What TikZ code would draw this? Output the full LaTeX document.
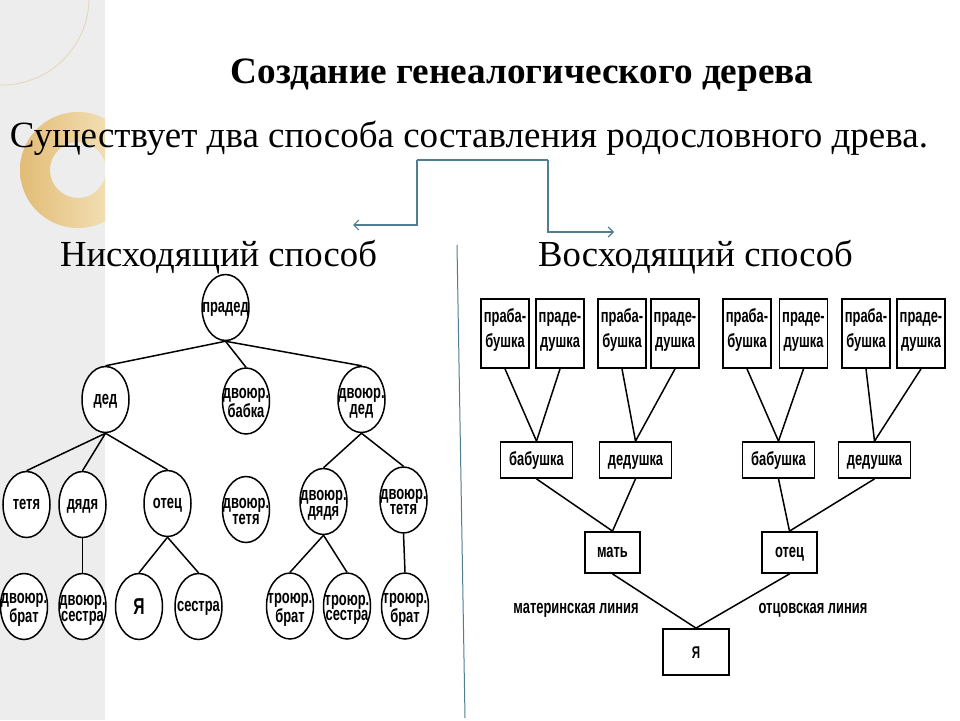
\documentclass[tikz,border=0pt]{standalone}
\usepackage{fontspec}
\setmainfont{Liberation Serif}
\newfontfamily\lbl{Liberation Sans}[FakeStretch=0.68]
\usetikzlibrary{shapes.geometric,arrows.meta}
\definecolor{arrc}{RGB}{80,125,145}
\definecolor{stripc}{RGB}{237,237,237}
\definecolor{golddark}{RGB}{226,188,118}
\definecolor{goldlight}{RGB}{248,234,200}
\definecolor{arcc}{RGB}{226,214,184}
\newcommand\twol[2]{\makebox[0pt]{\raisebox{-3pt}{\begin{tabular}{@{}c@{}}#1\\#2\end{tabular}}}}
\newcommand\twoup[2]{\makebox[0pt]{\raisebox{4pt}{\begin{tabular}{@{}c@{}}#1\\#2\end{tabular}}}}
\newcommand\onel[1]{\makebox[0pt]{#1}}
\begin{document}
\begin{tikzpicture}[x=1pt,y=-1pt,
  lab/.style={font=\lbl\bfseries\fontsize{19}{15.5}\selectfont, text=black, text height=10pt, text depth=0pt},
  ell/.style={lab, ellipse, draw=black, line width=1.5pt, fill=white, minimum width=47pt, minimum height=66pt, inner sep=0pt},
  topbox/.style={lab, font=\lbl\bfseries\fontsize{19}{25}\selectfont, rectangle, draw=black, line width=1.8pt, fill=white, minimum width=48pt, minimum height=69pt, inner sep=0pt},
  midbox/.style={lab, rectangle, draw=black, line width=1.8pt, fill=white, minimum width=72pt, minimum height=36pt, inner sep=0pt},
  parbox/.style={lab, rectangle, draw=black, line width=1.8pt, fill=white, minimum width=55pt, minimum height=41pt, inner sep=0pt},
  link/.style={line width=1.5pt, black},
  elbow/.style={draw=arrc, line width=1.2pt},
  tip/.style={-{Straight Barb[length=5pt,width=10pt]}},
  linelab/.style={lab, inner sep=0pt},
  heading/.style={font=\fontsize{36.7}{42}\selectfont, inner sep=0pt, anchor=base}
]
\useasboundingbox (0,0) rectangle (960,720);
\fill[white] (0,0) rectangle (960,720);
% left decorative strip
\fill[stripc] (0,0) rectangle (105,720);
\begin{scope}
  \clip (0,0) rectangle (105,720);
  \shade[even odd rule, left color=golddark, right color=goldlight] (78,170) circle (58) (78,170) circle (28);
  \draw[arcc, line width=0.8pt] (2,-2) circle (87);
\end{scope}
% separator line
\coordinate (sepA) at (457,245);
\coordinate (sepB) at (465,718);
\draw[arrc, line width=1pt] (sepA) -- (sepB);

% titles
\node[font=\bfseries\fontsize{37.2}{42}\selectfont, inner sep=0pt, anchor=base] (title) at (522,83) {Создание генеалогического дерева};
\node[font=\fontsize{37}{42}\selectfont, inner sep=0pt, anchor=base] (sub) at (469,147) {Существует два способа составления родословного древа.};
\node[heading] (down) at (218.5,266) {Нисходящий способ};
\node[heading] (up) at (695.5,266) {Восходящий способ};

% elbow arrows
\coordinate (tl) at (417,160);
\coordinate (tr) at (548,160);
\coordinate (la) at (353,225);
\coordinate (ra) at (614,232);
\draw[elbow] (tl) -- (tr);
\draw[elbow, tip] (tl) |- (la);
\draw[elbow, tip] (tr) |- (ra);

% ---------- left tree ----------
\node[ell] (p) at (225.5,307.5) {\onel{прадед}};
\node[ell] (d) at (105.5,399.5) {\onel{дед}};
\node[ell] (db) at (246,401) {\twol{двоюр.}{бабка}};
\node[ell] (dd) at (361.5,399.5) {\twol{двоюр.}{дед}};
\node[ell] (t) at (26.5,504.5) {\onel{тетя}};
\node[ell] (dj) at (82.5,504.5) {\onel{дядя}};
\node[ell] (o) at (167.5,503.5) {\onel{отец}};
\node[ell] (dt) at (246,509.5) {\twol{двоюр.}{тетя}};
\node[ell] (ddj) at (323.5,501.5) {\twol{двоюр.}{дядя}};
\node[ell] (dt2) at (403.5,500) {\twol{двоюр.}{тетя}};
\node[ell] (b1) at (24,606.5) {\twol{двоюр.}{брат}};
\node[ell] (s1) at (82.5,606.5) {\twol{двоюр.}{сестра}};
\node[ell, font=\lbl\bfseries\fontsize{23}{24}\selectfont, text height=16pt] (ya) at (139,606.5) {\onel{Я}};
\node[ell] (s2) at (198.5,606.5) {\onel{сестра}};
\node[ell] (tb) at (290,606) {\twol{троюр.}{брат}};
\node[ell] (ts) at (347,606) {\twol{троюр.}{сестра}};
\node[ell] (tb2) at (405,606) {\twol{троюр.}{брат}};

\draw[link] (p.south) -- (d.north);
\draw[link] (p.south) -- (db.north);
\draw[link] (p.south) -- (dd.north);
\draw[link] (d.south) -- (t.north);
\draw[link] (d.south) -- (dj.north);
\draw[link] (d.south) -- (o.north);
\draw[link] (dd.south) -- (ddj.north);
\draw[link] (dd.south) -- (dt2.north);
\draw[link] (dj.south) -- (s1.north);
\draw[link] (o.south) -- (ya.north);
\draw[link] (o.south) -- (s2.north);
\draw[link] (ddj.south) -- (tb.north);
\draw[link] (ddj.south) -- (ts.north);
\draw[link] (dt2.south) -- (tb2.north);

% ---------- right tree ----------
\node[topbox] (g1) at (505,333.5) {\twoup{праба-}{бушка}};
\node[topbox] (g2) at (560,333.5) {\twoup{праде-}{душка}};
\node[topbox] (g3) at (622,333.5) {\twoup{праба-}{бушка}};
\node[topbox] (g4) at (675,333.5) {\twoup{праде-}{душка}};
\node[topbox] (g5) at (747,333.5) {\twoup{праба-}{бушка}};
\node[topbox] (g6) at (803.5,333.5) {\twoup{праде-}{душка}};
\node[topbox] (g7) at (866,333.5) {\twoup{праба-}{бушка}};
\node[topbox] (g8) at (921,333.5) {\twoup{праде-}{душка}};

\node[midbox] (bab1) at (536.5,460) {бабушка};
\node[midbox] (ded1) at (635.5,460) {дедушка};
\node[midbox] (bab2) at (778.5,460) {бабушка};
\node[midbox] (ded2) at (874.5,460) {дедушка};

\node[parbox] (mat) at (612.5,552.5) {мать};
\node[parbox] (ot) at (789.5,552.5) {отец};
\node[parbox, minimum width=66pt, minimum height=46pt, font=\lbl\bfseries\fontsize{17}{18}\selectfont, text height=12pt] (me) at (696,652) {Я};

\draw[link] (g1.south) -- (bab1.north);
\draw[link] (g2.south) -- (bab1.north);
\draw[link] (g3.south) -- (ded1.north);
\draw[link] (g4.south) -- (ded1.north);
\draw[link] (g5.south) -- (bab2.north);
\draw[link] (g6.south) -- (bab2.north);
\draw[link] (g7.south) -- (ded2.north);
\draw[link] (g8.south) -- (ded2.north);
\draw[link] (bab1.south) -- (mat.north);
\draw[link] (ded1.south) -- (mat.north);
\draw[link] (bab2.south) -- (ot.north);
\draw[link] (ded2.south) -- (ot.north);
\draw[link] (mat.south) -- (me.north);
\draw[link] (ot.south) -- (me.north);

\node[linelab] (ml) at (576,608) {материнская линия};
\node[linelab] (fl) at (813,608) {отцовская линия};
\end{tikzpicture}
\end{document}
